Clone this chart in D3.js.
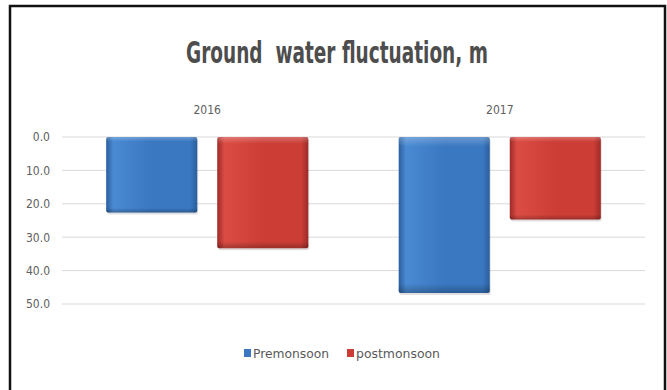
<!DOCTYPE html>
<html>
<head>
<meta charset="utf-8">
<script src="https://cdn.jsdelivr.net/npm/d3@7"></script>
<style>
  html, body { margin: 0; padding: 0; background: #fff; }
  svg { display: block; }
  text { font-family: "DejaVu Sans Condensed", "Liberation Sans Narrow", sans-serif; }
</style>
</head>
<body>
<svg id="chart" width="667" height="390"></svg>
<script>
// Ground water fluctuation (m) by year and season
const years = ["2016", "2017"];
const seriesNames = ["Premonsoon", "postmonsoon"];
const premonsoon = [22.6, 46.7];
const postmonsoon = [33.3, 24.7];
const yTicks = [0, 10, 20, 30, 40, 50];

const svg = d3.select("#chart");
const W = 667, H = 390;
const margin = { left: 62, right: 22, top: 137, bottom: 86 };
const FONT = '"DejaVu Sans Condensed", "Liberation Sans Narrow", sans-serif';

svg.append("rect").attr("width", W).attr("height", H).attr("fill", "#fff");

// Frame (left, top, right edges)
svg.append("path")
  .attr("d", `M10,${H} L10,6 L665,6 L665,${H}`)
  .attr("fill", "none").attr("stroke", "#111").attr("stroke-width", 2.5);

// Gradients for the bevelled bar look
const defs = svg.append("defs");
function barGradient(id, edge, mid, light) {
  const g = defs.append("linearGradient").attr("id", id)
    .attr("x1", "0").attr("x2", "1").attr("y1", "0").attr("y2", "0");
  g.append("stop").attr("offset", "0%").attr("stop-color", edge);
  g.append("stop").attr("offset", "8%").attr("stop-color", light);
  g.append("stop").attr("offset", "50%").attr("stop-color", mid);
  g.append("stop").attr("offset", "92%").attr("stop-color", mid);
  g.append("stop").attr("offset", "100%").attr("stop-color", edge);
}
barGradient("gBlue", "#2b5e9e", "#3a78c2", "#4a8ad2");
barGradient("gRed", "#9e2a27", "#cc3d36", "#db4c44");
const vg = defs.append("linearGradient").attr("id", "gShade")
  .attr("x1", "0").attr("x2", "0").attr("y1", "0").attr("y2", "1");
vg.append("stop").attr("offset", "0%").attr("stop-color", "#fff").attr("stop-opacity", 0.25);
vg.append("stop").attr("offset", "6%").attr("stop-color", "#fff").attr("stop-opacity", 0.0);
vg.append("stop").attr("offset", "94%").attr("stop-color", "#000").attr("stop-opacity", 0.0);
vg.append("stop").attr("offset", "100%").attr("stop-color", "#000").attr("stop-opacity", 0.25);

const x0 = d3.scaleBand().domain(years)
  .range([margin.left, W - margin.right]).paddingInner(0.309).paddingOuter(0.151);
const x1 = d3.scaleBand().domain(seriesNames)
  .range([0, x0.bandwidth()]).paddingInner(0.18);
const y = d3.scaleLinear().domain([0, 50]).range([margin.top, H - margin.bottom]);

// Horizontal gridlines
svg.append("g").selectAll("line").data(yTicks).join("line")
  .attr("x1", margin.left).attr("x2", W - margin.right)
  .attr("y1", d => y(d)).attr("y2", d => y(d))
  .attr("stroke", "#d9d9d9").attr("stroke-width", 1);

// Y axis labels
const yAxis = d3.axisLeft(y).tickValues(yTicks).tickFormat(d3.format(".1f")).tickSize(0).tickPadding(0);
const gy = svg.append("g").attr("transform", `translate(${margin.left - 12},0)`).call(yAxis);
gy.select(".domain").remove();
gy.selectAll("text").attr("font-size", 12).attr("fill", "#606060").style("font-family", FONT);

// Category labels along the top
const xAxis = d3.axisTop(x0).tickSize(0).tickPadding(0);
const gx = svg.append("g").attr("transform", `translate(0,${margin.top - 23})`).call(xAxis);
gx.select(".domain").remove();
gx.selectAll("text").attr("font-size", 12).attr("fill", "#606060").style("font-family", FONT);

// Bars hang down from zero
const rows = years.map((yr, i) => ({ year: yr, values: [premonsoon[i], postmonsoon[i]] }));
const fills = { Premonsoon: "url(#gBlue)", postmonsoon: "url(#gRed)" };
const groups = svg.append("g").selectAll("g").data(rows).join("g")
  .attr("transform", d => `translate(${x0(d.year)},0)`);
groups.selectAll("g").data(d => seriesNames.map((s, j) => ({ s, v: d.values[j] }))).join("g")
  .each(function(d) {
    const g = d3.select(this);
    const bx = x1(d.s), bw = x1.bandwidth(), by = y(0), bh = y(d.v) - y(0);
    g.append("rect").attr("x", bx + 1).attr("y", by + 2).attr("width", bw).attr("height", bh)
      .attr("fill", "#000").attr("opacity", 0.12).attr("rx", 2);
    g.append("rect").attr("x", bx).attr("y", by).attr("width", bw).attr("height", bh)
      .attr("fill", fills[d.s]).attr("rx", 2);
    g.append("rect").attr("x", bx).attr("y", by).attr("width", bw).attr("height", bh)
      .attr("fill", "url(#gShade)").attr("rx", 2);
  });

// Title
svg.append("text").attr("x", 186).attr("y", 63)
  .attr("font-size", 30).attr("font-weight", "bold").attr("fill", "#4d4d4d")
  .attr("textLength", 302).attr("lengthAdjust", "spacingAndGlyphs")
  .style("font-family", FONT).style("white-space", "pre")
  .text("Ground  water fluctuation, m");

// Legend
const legendColors = ["#3a78c2", "#cc3d36"];
const legendX = [244, 347];
const legendW = [76, 84];
const lg = svg.append("g").selectAll("g").data(seriesNames).join("g")
  .attr("transform", (d, i) => `translate(${legendX[i]},353)`);
lg.append("rect").attr("x", 0).attr("y", -4).attr("width", 7).attr("height", 8)
  .attr("fill", (d, i) => legendColors[i]);
lg.append("text").attr("x", 9).attr("y", 4.5).attr("font-size", 13).attr("fill", "#595959")
  .attr("textLength", (d, i) => legendW[i]).attr("lengthAdjust", "spacingAndGlyphs")
  .style("font-family", FONT)
  .text(d => d);
</script>
</body>
</html>
